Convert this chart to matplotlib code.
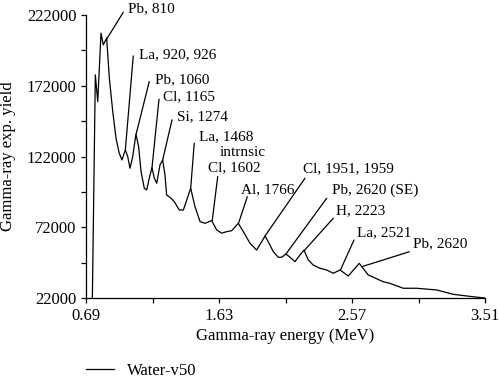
import matplotlib
matplotlib.use("Agg")
import matplotlib.pyplot as plt
import numpy as np

plt.rcParams['font.family'] = ['Liberation Serif', 'DejaVu Serif']

# spectrum (MeV, counts)
energy = [0.735, 0.756, 0.773, 0.796, 0.812, 0.836, 0.855, 0.879, 0.902, 0.925,
          0.944, 0.968, 0.985, 1.001, 1.020, 1.043, 1.062, 1.079, 1.102, 1.119,
          1.137, 1.156, 1.173, 1.190, 1.213, 1.232, 1.248, 1.260, 1.291, 1.314,
          1.349, 1.378, 1.430, 1.460, 1.496, 1.531, 1.578, 1.614, 1.649, 1.684,
          1.720, 1.766, 1.802, 1.849, 1.896, 1.932, 1.955, 1.978, 2.014, 2.049,
          2.073, 2.103, 2.132, 2.167, 2.202, 2.231, 2.261, 2.296, 2.344, 2.391,
          2.438, 2.485, 2.544, 2.621, 2.685, 2.791, 2.838, 2.932, 3.027, 3.168,
          3.286, 3.427, 3.510]
yield_ = [22000, 179700, 160800, 209200, 200900, 205700, 177400, 153800, 134900, 124300,
          119600, 126700, 121900, 113700, 121900, 137800, 129000, 111300, 99600, 98400,
          106700, 114100, 106700, 103100, 116100, 119600, 109000, 94800, 92500, 90100,
          84200, 84200, 99600, 86600, 76000, 74800, 76700, 70100, 67800, 68900,
          69600, 74800, 68900, 60700, 55900, 61800, 65800, 61800, 54700, 50800,
          50800, 53100, 50800, 47700, 52400, 55900, 48900, 45300, 43000, 41800,
          39500, 41800, 37600, 46500, 38300, 33500, 32400, 28900, 28900, 27700,
          24600, 22900, 22000]

peak_labels = ["Pb, 810", "La, 920, 926", "Pb, 1060", "Cl, 1165", "Si, 1274",
               "La, 1468", "Cl, 1602", "Al, 1766", "Cl, 1951, 1959",
               "Pb, 2620 (SE)", "H, 2223", "La, 2521", "Pb, 2620"]
# (text x, text y, line start x, line start y, line end x, line end y) in data units
label_pos = [(0.985, 226400, 0.954, 224000, 0.836, 205000),
             (1.065, 193900, 1.024, 193100, 0.968, 126700),
             (1.178, 176200, 1.137, 175000, 1.043, 137300),
             (1.236, 164400, 1.206, 162500, 1.156, 113700),
             (1.331, 149800, 1.298, 147900, 1.232, 119600),
             (1.491, 136100, 1.455, 131400, 1.430, 99600),
             (1.554, 114100, 1.621, 107800, 1.582, 76700),
             (1.783, 98400, 1.830, 93600, 1.768, 74800),
             (2.226, 113200, 2.238, 106700, 1.955, 65800),
             (2.426, 98400, 2.391, 92500, 2.103, 53100),
             (2.457, 83700, 2.438, 78400, 2.231, 55400),
             (2.603, 68200, 2.584, 63000, 2.487, 41500),
             (2.998, 60200, 2.975, 54700, 2.638, 44100)]

x_ticks = [0.69, 1.16, 1.63, 2.10, 2.57, 3.04, 3.51]
x_ticklabels = ["0.69", "", "1.63", "", "2.57", "", "3.51"]
y_ticks = [22000, 47000, 72000, 97000, 122000, 147000, 172000, 197000, 222000]
y_ticklabels = ["22000", "", "72000", "", "122000", "", "172000", "", "222000"]

fig = plt.figure(figsize=(5, 3.81), dpi=100)
ax = fig.add_axes([0.172, 0.2178, 0.798, 0.7428])

ax.plot(energy, yield_, color='black', lw=0.9, label="Water-v50")

for txt, (tx, ty, sx, sy, ex, ey) in zip(peak_labels, label_pos):
    ax.text(tx, ty, txt, fontsize=11, ha='left', va='center')
    ax.annotate('', xy=(ex, ey), xytext=(sx, sy),
                arrowprops=dict(arrowstyle='-', lw=0.9, color='black',
                                shrinkA=0, shrinkB=0))
ax.text(1.637, 124800, "intrnsic", fontsize=11, ha='left', va='center')

ax.set_xlim(0.69, 3.51)
ax.set_ylim(22000, 222000)
ax.set_xticks(x_ticks)
ax.set_xticklabels(x_ticklabels)
ax.set_yticks(y_ticks)
ax.set_yticklabels(y_ticklabels)
ax.tick_params(direction='out', length=3.5, width=0.9, labelsize=12, pad=3.5)

for side in ['top', 'right']:
    ax.spines[side].set_visible(False)
for side in ['left', 'bottom']:
    ax.spines[side].set_linewidth(0.9)

ax.set_xlabel("Gamma-ray energy (MeV)", fontsize=12)
ax.set_ylabel("Gamma-ray exp. yield", fontsize=12)
ax.xaxis.set_label_coords(0.5, -0.106)
ax.yaxis.set_label_coords(-0.175, 0.5)

fig.legend(loc='center left', bbox_to_anchor=(0.172, 0.027), frameon=False,
           borderpad=0, borderaxespad=0, fontsize=12, handlelength=1.7,
           handletextpad=0.76)

fig.savefig("out.png", dpi=100)
